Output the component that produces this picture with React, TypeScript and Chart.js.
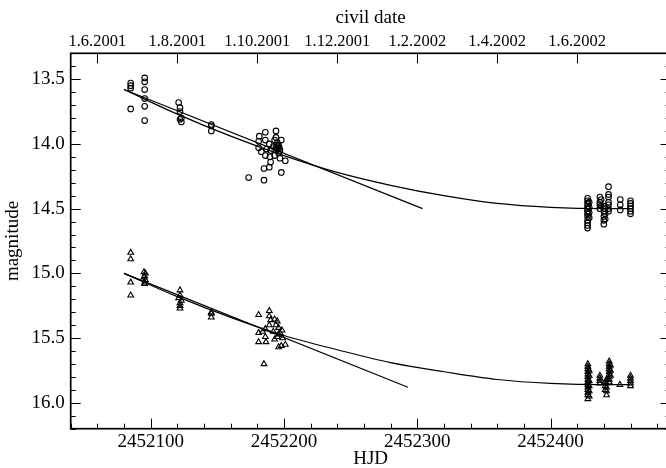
import React, { useEffect, useRef } from "react";
import { Chart, registerables } from "chart.js";

Chart.register(...registerables);

// Axis ranges
const HJD_MIN = 2452040;
const HJD_MAX = 2452490;
const MAG_TOP = 13.3;
const MAG_BOTTOM = 16.2;

// Tick positions and labels
const hjdTicks = [2452100, 2452200, 2452300, 2452400];
const hjdMinorStep = 20;
const magTicks = [13.5, 14.0, 14.5, 15.0, 15.5, 16.0];
const magMinorStep = 0.1;
const civilDateHjd = [2452060, 2452120, 2452180, 2452240, 2452300, 2452360, 2452420];
const civilDateLabels = ["1.6.2001", "1.8.2001", "1.10.2001", "1.12.2001", "1.2.2002", "1.4.2002", "1.6.2002"];

// Star 1 (circles)
const circleHjd = [
  2452085, 2452085, 2452085, 2452085,
  2452095.5, 2452095.5, 2452095.5, 2452095.5, 2452095.5, 2452095.5,
  2452121, 2452122, 2452122, 2452123, 2452122, 2452123,
  2452145.5, 2452145.5, 2452145.5,
  2452173.5, 2452185, 2452185, 2452189, 2452198, 2452186, 2452194, 2452181.5, 2452181, 2452186,
  2452194, 2452198, 2452181, 2452189, 2452192, 2452195, 2452196, 2452195, 2452197, 2452186,
  2452189.5, 2452190, 2452193, 2452197, 2452201, 2452190, 2452187, 2452194, 2452196, 2452193, 2452183,
  2452195.5, 2452196.5, 2452194.5,
  2452427.8, 2452427.8, 2452427.8, 2452427.8, 2452427.8, 2452427.8, 2452427.8, 2452427.8, 2452427.8, 2452427.8, 2452427.8, 2452427.8,
  2452429, 2452429, 2452429, 2452429,
  2452437, 2452437, 2452437, 2452437,
  2452438, 2452438,
  2452440, 2452440, 2452440, 2452440, 2452440,
  2452441, 2452441, 2452441,
  2452443.5, 2452443.5, 2452443.5, 2452443.5, 2452443.5, 2452443.5, 2452443.5,
  2452452.3, 2452452.3, 2452452.3,
  2452460, 2452460, 2452460, 2452460, 2452460, 2452460,
];
const circleMag = [
  13.53, 13.55, 13.57, 13.73,
  13.49, 13.52, 13.58, 13.65, 13.71, 13.82,
  13.68, 13.72, 13.75, 13.80, 13.81, 13.83,
  13.85, 13.86, 13.9,
  14.26, 14.28, 14.19, 14.18, 14.22, 13.91, 13.9, 13.94, 13.98, 13.97,
  13.95, 13.97, 14.03, 14.0, 14.02, 13.99, 14.01, 14.04, 14.05, 14.09,
  14.1, 14.14, 14.09, 14.11, 14.13, 14.05, 14.04, 14.03, 14.07, 13.97, 14.06,
  14.02, 14.03, 14.01,
  14.42, 14.44, 14.46, 14.48, 14.5, 14.52, 14.54, 14.56, 14.59, 14.61, 14.63, 14.65,
  14.45, 14.49, 14.53, 14.57,
  14.41, 14.45, 14.47, 14.5,
  14.43, 14.48,
  14.48, 14.52, 14.56, 14.59, 14.62,
  14.5, 14.54, 14.58,
  14.33, 14.39, 14.41, 14.45, 14.47, 14.5, 14.52,
  14.43, 14.47, 14.51,
  14.44, 14.46, 14.48, 14.5, 14.52, 14.54,
];

// Star 2 (triangles)
const triangleHjd = [
  2452085, 2452085, 2452085, 2452085,
  2452095, 2452096, 2452095.5, 2452095, 2452096, 2452095.5, 2452095.5,
  2452122, 2452122, 2452121, 2452123, 2452122, 2452122, 2452122,
  2452145.5, 2452145.5, 2452145.5,
  2452181, 2452189, 2452189, 2452193, 2452195, 2452189, 2452181, 2452186, 2452186, 2452181,
  2452186.5, 2452193, 2452195, 2452197, 2452198.5, 2452196, 2452198, 2452201, 2452185, 2452194,
  2452196, 2452192, 2452196, 2452199, 2452190, 2452184,
  2452428, 2452428, 2452428, 2452428, 2452428, 2452428, 2452428, 2452428, 2452428, 2452428, 2452428, 2452428, 2452428, 2452428,
  2452429, 2452429, 2452429, 2452429, 2452429, 2452429,
  2452437, 2452437, 2452437, 2452437,
  2452442, 2452442, 2452442, 2452442, 2452442,
  2452441, 2452441, 2452441,
  2452444, 2452444, 2452444, 2452444, 2452444, 2452444, 2452444, 2452444, 2452444,
  2452445, 2452445, 2452445,
  2452452,
  2452460, 2452460, 2452460, 2452460, 2452460,
];
const triangleMag = [
  14.84, 14.89, 15.07, 15.17,
  14.99, 15.0, 15.02, 15.03, 15.05, 15.07, 15.08,
  15.13, 15.17, 15.19, 15.21, 15.23, 15.25, 15.27,
  15.3, 15.31, 15.34,
  15.32, 15.29, 15.33, 15.355, 15.37, 15.4, 15.46, 15.43, 15.49, 15.53,
  15.53, 15.51, 15.49, 15.46, 15.44, 15.57, 15.56, 15.55, 15.7, 15.4,
  15.42, 15.45, 15.47, 15.5, 15.36, 15.45,
  15.7, 15.72, 15.74, 15.76, 15.78, 15.8, 15.82, 15.84, 15.86, 15.88, 15.9, 15.92, 15.94, 15.97,
  15.75, 15.79, 15.83, 15.87, 15.91, 15.95,
  15.79, 15.81, 15.83, 15.85,
  15.82, 15.85, 15.88, 15.91, 15.94,
  15.84, 15.87, 15.9,
  15.68, 15.7, 15.72, 15.74, 15.76, 15.78, 15.8, 15.82, 15.84,
  15.71, 15.75, 15.79,
  15.86,
  15.79, 15.81, 15.83, 15.85, 15.87,
];

// Linear fits to the 2001 season
const linearFit1Hjd = [2452080, 2452304];
const linearFit1Mag = [13.58, 14.5];
const linearFit2Hjd = [2452080, 2452293];
const linearFit2Mag = [15.0, 15.88];

// Quadratic fits to both seasons
const curveFitHjd = [2452080, 2452120, 2452160, 2452200, 2452240, 2452280, 2452320, 2452360, 2452400, 2452440, 2452460];
const curveFit1Mag = [13.58, 13.77, 13.94, 14.09, 14.22, 14.32, 14.4, 14.46, 14.49, 14.5, 14.5];
const curveFit2Mag = [15.0, 15.18, 15.34, 15.48, 15.59, 15.69, 15.76, 15.82, 15.85, 15.86, 15.86];

const FONT = '"Liberation Serif", "Times New Roman", serif';

const zip = (xs: number[], ys: number[]) => xs.map((x, i) => ({ x, y: ys[i] }));

const frameAndTicks = {
  id: "frameAndTicks",
  afterDatasetsDraw(chart: any) {
    const { ctx, chartArea, scales } = chart;
    const { left, right, top, bottom } = chartArea;
    ctx.save();
    ctx.strokeStyle = "#000";
    ctx.lineWidth = 1;
    ctx.beginPath();
    // bottom HJD ticks (inward)
    for (let v = HJD_MIN; v <= HJD_MAX; v += hjdMinorStep) {
      const x = Math.round(scales.x.getPixelForValue(v)) + 0.5;
      const len = hjdTicks.includes(v) ? 10 : 5;
      ctx.moveTo(x, bottom);
      ctx.lineTo(x, bottom - len);
    }
    // top civil date ticks
    civilDateHjd.forEach((v) => {
      const x = Math.round(scales.x2.getPixelForValue(v)) + 0.5;
      ctx.moveTo(x, top);
      ctx.lineTo(x, top + 10);
    });
    // left and right magnitude ticks
    const k0 = Math.ceil(MAG_TOP / magMinorStep - 1e-6);
    const k1 = Math.floor(MAG_BOTTOM / magMinorStep + 1e-6);
    for (let k = k0; k <= k1; k++) {
      const v = k * magMinorStep;
      const y = Math.round(scales.y.getPixelForValue(v)) + 0.5;
      const len = k % 5 === 0 ? 10 : 5;
      ctx.moveTo(left, y);
      ctx.lineTo(left + len, y);
      ctx.moveTo(right, y);
      ctx.lineTo(right - len, y);
    }
    ctx.stroke();
    // frame
    ctx.lineWidth = 1.7;
    ctx.strokeRect(left, top, right - left, bottom - top);

    // axis titles
    ctx.fillStyle = "#000";
    ctx.font = `19px ${FONT}`;
    ctx.textAlign = "center";
    ctx.textBaseline = "middle";
    const cx = (left + right) / 2;
    ctx.fillText("civil date", cx, 18);
    ctx.fillText("HJD", cx, 459);
    ctx.translate(13, (top + bottom) / 2);
    ctx.rotate(-Math.PI / 2);
    ctx.fillText("magnitude", 0, 0);
    ctx.restore();
  },
};

export default function App() {
  const ref = useRef<HTMLCanvasElement | null>(null);

  useEffect(() => {
    if (!ref.current) return;
    const pointBase = {
      type: "scatter" as const,
      borderColor: "#000",
      backgroundColor: "rgba(255,255,255,0)",
      borderWidth: 1.1,
      showLine: false,
    };
    const lineBase = {
      type: "line" as const,
      borderColor: "#000",
      borderWidth: 1.2,
      pointRadius: 0,
      fill: false,
      showLine: true,
    };
    const chart = new Chart(ref.current, {
      type: "scatter",
      data: {
        datasets: [
          { ...lineBase, data: zip(linearFit1Hjd, linearFit1Mag), tension: 0 },
          { ...lineBase, data: zip(linearFit2Hjd, linearFit2Mag), tension: 0 },
          { ...lineBase, data: zip(curveFitHjd, curveFit1Mag), cubicInterpolationMode: "monotone" },
          { ...lineBase, data: zip(curveFitHjd, curveFit2Mag), cubicInterpolationMode: "monotone" },
          { ...pointBase, data: zip(circleHjd, circleMag), pointStyle: "circle", pointRadius: 2.8 },
          { ...pointBase, data: zip(triangleHjd, triangleMag), pointStyle: "triangle", pointRadius: 3.3 },
        ] as any,
      },
      options: {
        animation: false,
        responsive: false,
        events: [],
        layout: { padding: 0 },
        plugins: { legend: { display: false }, tooltip: { enabled: false } },
        scales: {
          x: {
            type: "linear",
            position: "bottom",
            min: HJD_MIN,
            max: HJD_MAX,
            grid: { display: false, drawTicks: false },
            border: { display: false },
            afterBuildTicks: (s: any) => {
              s.ticks = hjdTicks.map((value) => ({ value }));
            },
            afterFit: (s: any) => {
              s.height = 39.3;
            },
            ticks: {
              autoSkip: false,
              maxRotation: 0,
              minRotation: 0,
              padding: 2,
              color: "#000",
              font: { family: FONT, size: 19 },
              callback: (v: any) => String(v),
            },
          },
          x2: {
            type: "linear",
            position: "top",
            min: HJD_MIN,
            max: HJD_MAX,
            grid: { display: false, drawTicks: false },
            border: { display: false },
            afterBuildTicks: (s: any) => {
              s.ticks = civilDateHjd.map((value) => ({ value }));
            },
            afterFit: (s: any) => {
              s.height = 53.3;
            },
            ticks: {
              autoSkip: false,
              maxRotation: 0,
              minRotation: 0,
              padding: 2,
              color: "#000",
              font: { family: FONT, size: 16.5 },
              callback: (_v: any, i: number) => civilDateLabels[i],
            },
          },
          y: {
            type: "linear",
            position: "left",
            reverse: true,
            min: MAG_TOP,
            max: MAG_BOTTOM,
            grid: { display: false, drawTicks: false },
            border: { display: false },
            afterBuildTicks: (s: any) => {
              s.ticks = magTicks.map((value) => ({ value }));
            },
            afterFit: (s: any) => {
              s.width = 70.7;
            },
            ticks: {
              autoSkip: false,
              padding: 6,
              color: "#000",
              font: { family: FONT, size: 19 },
              callback: (v: any) => Number(v).toFixed(1),
            },
          },
          y2: {
            type: "linear",
            position: "right",
            reverse: true,
            min: MAG_TOP,
            max: MAG_BOTTOM,
            grid: { display: false, drawTicks: false },
            border: { display: false },
            ticks: { display: false },
            afterFit: (s: any) => {
              s.width = 5.5;
            },
          },
        },
      } as any,
      plugins: [frameAndTicks],
    });
    return () => chart.destroy();
  }, []);

  return (
    <div
      style={{
        position: "fixed",
        left: 0,
        top: 0,
        width: 666,
        height: 468,
        overflow: "hidden",
        background: "#fff",
      }}
    >
      <canvas ref={ref} width={676} height={468} style={{ display: "block" }} />
    </div>
  );
}
